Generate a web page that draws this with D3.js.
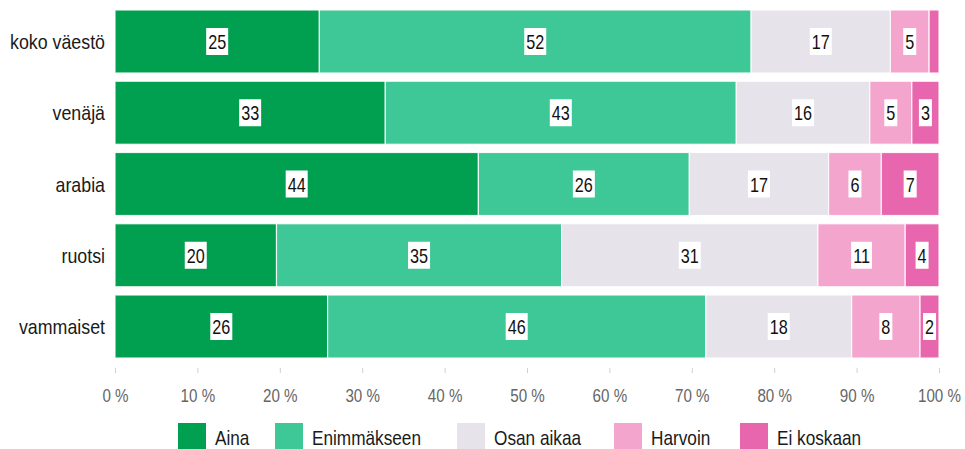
<!DOCTYPE html>
<html><head><meta charset="utf-8">
<script src="https://cdn.jsdelivr.net/npm/d3@7"></script>
<style>
body{margin:0;background:#fff;}
text{font-family:"Liberation Sans",Arial,sans-serif;}
</style></head>
<body><svg id="c" width="965" height="449"></svg>
<script>
const categories = ["koko väestö","venäjä","arabia","ruotsi","vammaiset"];
const seriesNames = ["Aina","Enimmäkseen","Osan aikaa","Harvoin","Ei koskaan"];
const aina        = [24.8, 32.8, 44.1, 19.6, 25.8];
const enimmakseen = [52.4, 42.6, 25.6, 34.6, 45.9];
const osanAikaa   = [16.9, 16.2, 16.9, 31.1, 17.7];
const harvoin     = [4.7, 5.1, 6.4, 10.6, 8.3];
const eiKoskaan   = [1.2, 3.3, 7.0, 4.1, 2.3];
const tickValues = [0,10,20,30,40,50,60,70,80,90,100];
const colors = ["#00a050","#3ec797","#e6e3eb","#f4a5ce","#e866ad"];

const seriesVals = [aina, enimmakseen, osanAikaa, harvoin, eiKoskaan];
const rows = categories.map((c,i)=>{const o={cat:c}; seriesNames.forEach((s,j)=>o[s]=seriesVals[j][i]); return o;});
const stack = d3.stack().keys(seriesNames)(rows);

const svg = d3.select("#c");
const x = d3.scaleLinear().domain([0,100]).range([115,939]);
const y = d3.scaleBand().domain(categories).range([6,362]).paddingInner(0.1158).paddingOuter(0.056);

function squeeze(sel, factor){
  sel.each(function(){
    const L=this.getComputedTextLength();
    d3.select(this).attr("textLength", L*factor).attr("lengthAdjust","spacingAndGlyphs");
  });
}
function measure(str, size){
  const t = svg.append("text").attr("font-size",size).text(str);
  const L = t.node().getComputedTextLength(); t.remove(); return L;
}
const fCat = 95/measure("koko väestö",21);
const fLeg = 109/measure("Enimmäkseen",21);
const fAx  = 43/measure("100 %",19);
const fNum = 18/measure("25",21);

// bars
stack.forEach((layer,j)=>{
  const g = svg.append("g");
  layer.forEach(d=>{
    const x0=x(d[0]), x1=x(d[1]), yy=y(d.data.cat), h=y.bandwidth();
    g.append("rect").attr("x",x0).attr("y",yy).attr("width",x1-x0).attr("height",h)
      .attr("fill",colors[j]).attr("stroke","#fff").attr("stroke-opacity",0.85).attr("stroke-width",1.2);
    const w = x1-x0;
    if (w>15){
      const label = String(Math.round(d[1]-d[0]));
      const cx=(x0+x1)/2, cy=yy+h/2;
      const t = g.append("text").attr("x",cx).attr("y",cy).attr("dy","0.36em")
        .attr("text-anchor","middle").attr("font-size",21).attr("fill","#111").text(label);
      const tw = t.node().getComputedTextLength()*fNum;
      squeeze(t, fNum);
      g.insert("rect", function(){return t.node();}).attr("x",cx-tw/2-2).attr("y",cy-13.5).attr("width",tw+4).attr("height",27).attr("fill","#fff");
    }
  });
});

// category labels
const cl = svg.append("g").selectAll("text").data(categories).join("text")
  .attr("x",105).attr("y",d=>y(d)+y.bandwidth()/2).attr("dy","0.36em")
  .attr("text-anchor","end").attr("font-size",21).attr("fill","#1a1a1a").text(d=>d);
squeeze(cl, fCat);

// x axis
const ax = svg.append("g").attr("transform","translate(0,368)")
  .call(d3.axisBottom(x).tickValues(tickValues).tickSize(5).tickFormat(d=>d+" %"));
ax.select(".domain").remove();
ax.selectAll("line").attr("stroke","#d0d0d0");
ax.selectAll("text").attr("font-size",19).attr("fill","#666").attr("y",27).attr("dy","0.36em")
  .style("font-family",'"Liberation Sans",Arial,sans-serif');
squeeze(ax.selectAll("text"), fAx);

// legend
const legendX = [178, 275, 457, 614, 740];
const lg = svg.append("g");
seriesNames.forEach((s,j)=>{
  lg.append("rect").attr("x",legendX[j]).attr("y",423).attr("width",28).attr("height",28).attr("fill",colors[j]);
  const t = lg.append("text").attr("x",legendX[j]+37).attr("y",437).attr("dy","0.36em").attr("font-size",21).attr("fill","#1a1a1a").text(s);
  squeeze(t, fLeg);
});
</script></body></html>
